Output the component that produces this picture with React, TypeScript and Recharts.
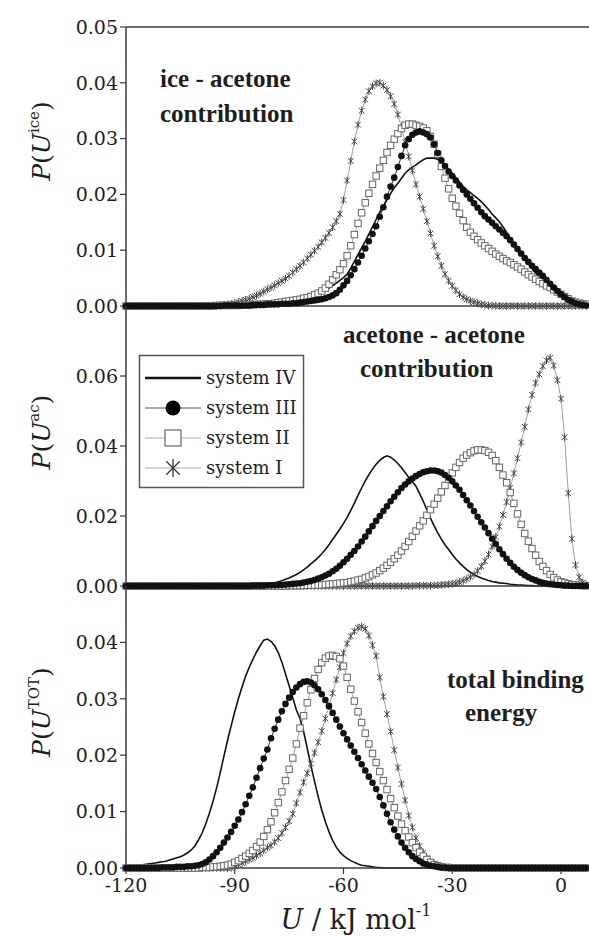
import { LineChart, Line, XAxis, YAxis, ReferenceLine } from "recharts";

// energy bins (kJ/mol), one per integer from -120 to 7
const U_START = -120;
const BIN_COUNT = 128;
const energies = Array.from({ length: BIN_COUNT }, (_, i) => U_START + i);

// probabilities below are in units of 1e-3, one row per 10 bins starting at -120

// ice - acetone contribution
const iceI = [
  0, 0, 0, 0, 0, 0, 0, 0, 0, 0,
  0, 0, 0, 0, 0, 0, 0, 0, 0, 0,
  0, 0, 0, 0, 0.1, 0.1, 0.2, 0.2, 0.3, 0.4,
  0.5, 0.7, 0.9, 1.1, 1.3, 1.6, 1.9, 2.2, 2.6, 3.0,
  3.3, 3.7, 4.1, 4.5, 4.9, 5.4, 6.0, 6.6, 7.2, 7.8,
  8.5, 9.2, 9.9, 10.6, 11.4, 12.2, 13.1, 14.1, 15.2, 16.5,
  19.0, 22.5, 26.0, 29.5, 32.5, 35.0, 37.0, 38.5, 39.4, 39.9,
  40.0, 39.5, 38.7, 37.6, 36.2, 34.3, 32.0, 29.4, 26.8, 24.3,
  21.8, 19.6, 17.4, 15.2, 13.0, 10.8, 8.9, 7.2, 5.7, 4.5,
  3.6, 2.8, 2.1, 1.6, 1.2, 0.9, 0.7, 0.5, 0.3, 0.2,
  0.1, 0.1, 0, 0, 0, 0, 0, 0, 0, 0,
  0, 0, 0, 0, 0, 0, 0, 0, 0, 0,
  0, 0, 0, 0, 0, 0, 0, 0,
];
const iceII = [
  0, 0, 0, 0, 0, 0, 0, 0, 0, 0,
  0, 0, 0, 0, 0, 0, 0, 0, 0, 0,
  0, 0, 0, 0, 0, 0.1, 0.1, 0.1, 0.1, 0.1,
  0.1, 0.1, 0.2, 0.2, 0.2, 0.2, 0.3, 0.3, 0.3, 0.4,
  0.4, 0.5, 0.6, 0.7, 0.8, 0.9, 1.0, 1.1, 1.2, 1.4,
  1.5, 1.7, 2.0, 2.3, 2.7, 3.2, 3.9, 4.7, 5.6, 6.5,
  7.6, 9.0, 10.8, 12.8, 14.8, 16.7, 18.5, 20.2, 21.8, 23.3,
  24.7, 26.1, 27.5, 28.8, 29.9, 30.9, 31.8, 32.4, 32.6, 32.6,
  32.4, 32.2, 31.9, 31.4, 30.4, 29.0, 27.2, 25.0, 22.9, 21.0,
  19.3, 17.9, 16.6, 15.3, 14.1, 13.2, 12.5, 11.9, 11.3, 10.8,
  10.3, 9.8, 9.3, 8.9, 8.5, 8.1, 7.8, 7.4, 7.0, 6.6,
  6.1, 5.6, 5.2, 4.8, 4.4, 4.0, 3.6, 3.3, 2.9, 2.5,
  2.1, 1.7, 1.3, 0.9, 0.7, 0.5, 0.4, 0.3,
];
const iceIII = [
  0, 0, 0, 0, 0, 0, 0, 0, 0, 0,
  0, 0, 0, 0, 0, 0, 0, 0, 0, 0,
  0, 0, 0, 0, 0, 0, 0, 0.1, 0.1, 0.1,
  0.1, 0.1, 0.1, 0.1, 0.1, 0.2, 0.2, 0.2, 0.2, 0.3,
  0.3, 0.3, 0.3, 0.4, 0.4, 0.4, 0.5, 0.5, 0.6, 0.7,
  0.8, 0.9, 1.0, 1.1, 1.2, 1.4, 1.6, 1.9, 2.3, 2.9,
  3.7, 4.5, 5.5, 6.6, 7.8, 9.0, 10.3, 11.6, 12.9, 14.3,
  16.0, 17.7, 19.6, 21.4, 23.0, 24.9, 26.9, 28.8, 29.9, 30.7,
  31.1, 31.3, 31.1, 30.8, 30.2, 29.0, 27.4, 26.1, 25.1, 24.1,
  23.3, 22.5, 21.6, 20.8, 20.0, 19.2, 18.4, 17.6, 16.8, 16.1,
  15.5, 14.9, 14.3, 13.7, 13.1, 12.5, 11.8, 11.0, 10.2, 9.4,
  8.6, 7.9, 7.2, 6.6, 6.0, 5.4, 4.7, 4.0, 3.3, 2.7,
  2.1, 1.6, 1.1, 0.8, 0.5, 0.3, 0.2, 0.1,
];
const iceIV = [
  0, 0, 0, 0, 0, 0, 0, 0, 0, 0,
  0, 0, 0, 0, 0, 0, 0, 0, 0, 0,
  0, 0, 0, 0, 0, 0, 0, 0.1, 0.1, 0.1,
  0.1, 0.1, 0.1, 0.1, 0.2, 0.2, 0.2, 0.3, 0.3, 0.3,
  0.4, 0.4, 0.5, 0.6, 0.7, 0.8, 0.9, 1.0, 1.2, 1.3,
  1.5, 1.7, 1.9, 2.2, 2.5, 2.8, 3.2, 3.6, 4.1, 4.6,
  5.1, 5.7, 6.8, 8.0, 9.2, 10.4, 11.6, 12.9, 14.2, 15.5,
  16.8, 17.9, 19.0, 20.2, 21.2, 22.0, 22.9, 23.8, 24.4, 24.9,
  25.3, 25.8, 26.2, 26.5, 26.5, 26.5, 26.3, 25.8, 25.2, 24.5,
  23.8, 23.0, 22.2, 21.4, 20.8, 20.3, 19.8, 19.3, 18.7, 18.0,
  17.3, 16.5, 15.8, 15.1, 14.2, 13.2, 12.1, 11.0, 10.1, 9.2,
  8.4, 7.6, 6.7, 5.9, 5.1, 4.4, 3.8, 3.2, 2.7, 2.1,
  1.6, 1.2, 0.8, 0.5, 0.3, 0.2, 0.1, 0.1,
];

// acetone - acetone contribution
const acI = [
  0, 0, 0, 0, 0, 0, 0, 0, 0, 0,
  0, 0, 0, 0, 0, 0, 0, 0, 0, 0,
  0, 0, 0, 0, 0, 0, 0, 0, 0, 0,
  0, 0, 0, 0, 0, 0, 0, 0, 0, 0,
  0, 0, 0, 0, 0, 0, 0, 0, 0, 0,
  0, 0, 0, 0, 0, 0, 0, 0, 0, 0,
  0, 0, 0, 0, 0, 0, 0, 0, 0, 0,
  0, 0, 0, 0, 0, 0, 0, 0, 0, 0,
  0.1, 0.1, 0.1, 0.1, 0.1, 0.2, 0.2, 0.3, 0.4, 0.5,
  0.6, 0.8, 1.1, 1.5, 2.0, 2.6, 3.3, 4.3, 5.6, 7.1,
  9.0, 11.3, 14.0, 17.0, 20.3, 24.0, 28.0, 32.2, 36.5, 41.0,
  45.5, 50.5, 54.6, 58.0, 60.5, 62.8, 64.5, 65.2, 63.0, 58.8,
  53.5, 42.5, 26.5, 13.5, 6.0, 2.5, 1.0, 0.4,
];
const acII = [
  0, 0, 0, 0, 0, 0, 0, 0, 0, 0,
  0, 0, 0, 0, 0, 0, 0, 0, 0, 0,
  0, 0, 0, 0, 0, 0, 0, 0, 0, 0,
  0, 0, 0, 0, 0, 0, 0, 0, 0, 0,
  0, 0, 0, 0, 0, 0.1, 0.1, 0.1, 0.1, 0.1,
  0.2, 0.2, 0.2, 0.3, 0.3, 0.4, 0.5, 0.6, 0.7, 0.8,
  0.9, 1.0, 1.2, 1.4, 1.7, 1.9, 2.3, 2.7, 3.2, 3.7,
  4.4, 5.1, 5.9, 6.8, 7.8, 8.8, 10.0, 11.3, 12.7, 14.2,
  15.7, 17.2, 18.6, 20.2, 21.8, 23.4, 25.1, 26.9, 28.7, 30.5,
  32.3, 33.9, 35.3, 36.5, 37.4, 38.1, 38.6, 38.9, 38.9, 38.7,
  38.2, 37.3, 35.8, 33.9, 31.7, 29.5, 26.7, 23.6, 20.6, 17.6,
  15.0, 12.8, 10.7, 8.8, 7.0, 5.6, 4.4, 3.3, 2.4, 1.7,
  1.2, 0.9, 0.6, 0.4, 0.3, 0.2, 0.1, 0.1,
];
const acIII = [
  0, 0, 0, 0, 0, 0, 0, 0, 0, 0,
  0, 0, 0, 0, 0, 0, 0, 0, 0, 0,
  0, 0, 0, 0, 0, 0, 0, 0, 0, 0,
  0, 0, 0, 0, 0, 0.1, 0.1, 0.1, 0.1, 0.2,
  0.2, 0.2, 0.3, 0.3, 0.4, 0.5, 0.6, 0.7, 0.8, 1.0,
  1.2, 1.4, 1.7, 2.1, 2.5, 3.0, 3.5, 4.2, 4.9, 5.8,
  6.8, 7.8, 8.9, 10.0, 11.3, 12.7, 14.1, 15.6, 17.1, 18.6,
  20.0, 21.4, 22.8, 24.2, 25.5, 26.8, 28.0, 29.0, 29.9, 30.7,
  31.4, 32.0, 32.5, 32.8, 33.0, 33.0, 32.8, 32.4, 31.7, 30.9,
  29.9, 28.7, 27.5, 26.0, 24.5, 23.0, 21.4, 19.8, 18.2, 16.7,
  15.1, 13.5, 12.0, 10.5, 9.1, 7.8, 6.6, 5.5, 4.6, 3.8,
  3.1, 2.5, 2.0, 1.6, 1.2, 0.9, 0.7, 0.5, 0.4, 0.3,
  0.2, 0.1, 0.1, 0, 0, 0, 0, 0,
];
const acIV = [
  0, 0, 0, 0, 0, 0, 0, 0, 0, 0,
  0, 0, 0, 0, 0, 0, 0, 0, 0, 0,
  0, 0, 0, 0, 0, 0, 0, 0, 0, 0,
  0, 0, 0.1, 0.1, 0.1, 0.2, 0.2, 0.3, 0.4, 0.5,
  0.7, 0.9, 1.2, 1.5, 1.9, 2.3, 2.8, 3.3, 3.9, 4.6,
  5.4, 6.3, 7.2, 8.1, 9.2, 10.4, 11.8, 13.3, 14.8, 16.3,
  17.9, 19.6, 21.6, 23.7, 25.9, 28.0, 30.0, 31.8, 33.4, 34.8,
  35.9, 36.7, 37.2, 36.8, 36.0, 35.0, 33.8, 32.4, 31.0, 29.8,
  28.5, 26.4, 24.2, 21.8, 19.4, 17.2, 15.2, 13.4, 11.8, 10.4,
  9.0, 7.7, 6.6, 5.6, 4.7, 3.9, 3.3, 2.7, 2.3, 1.9,
  1.6, 1.3, 1.1, 0.9, 0.8, 0.7, 0.5, 0.4, 0.3, 0.3,
  0.2, 0.1, 0.1, 0, 0, 0, 0, 0, 0, 0,
  0, 0, 0, 0, 0, 0, 0, 0,
];

// total binding energy
const totI = [
  0, 0, 0, 0, 0, 0, 0, 0, 0, 0,
  0, 0, 0, 0, 0, 0, 0, 0, 0, 0,
  0, 0, 0, 0, 0, 0, 0, 0, 0, 0,
  0.4, 0.6, 0.9, 1.2, 1.5, 1.8, 2.2, 2.6, 3.1, 3.6,
  4.0, 4.6, 5.3, 6.2, 7.2, 8.3, 9.6, 11.5, 13.4, 15.2,
  16.8, 18.5, 20.4, 22.3, 24.3, 26.5, 28.7, 31.0, 33.4, 35.6,
  38.1, 39.8, 41.1, 42.0, 42.6, 42.8, 42.4, 41.2, 39.5, 37.6,
  33.8, 30.4, 27.3, 24.2, 20.9, 17.8, 14.9, 12.0, 9.3, 7.2,
  5.3, 3.9, 2.7, 1.8, 1.1, 0.7, 0.4, 0.2, 0.1, 0.1,
  0, 0, 0, 0, 0, 0, 0, 0, 0, 0,
  0, 0, 0, 0, 0, 0, 0, 0, 0, 0,
  0, 0, 0, 0, 0, 0, 0, 0, 0, 0,
  0, 0, 0, 0, 0, 0, 0, 0,
];
const totII = [
  0, 0, 0, 0, 0, 0, 0, 0, 0, 0,
  0, 0, 0, 0, 0, 0, 0, 0, 0, 0,
  0, 0.1, 0.1, 0.1, 0.2, 0.2, 0.3, 0.4, 0.5, 0.7,
  1.0, 1.3, 1.7, 2.1, 2.6, 3.1, 3.8, 4.6, 5.6, 6.8,
  8.2, 9.8, 11.6, 13.5, 15.5, 17.5, 19.5, 22.0, 24.8, 27.0,
  29.3, 31.6, 33.6, 35.2, 36.4, 37.2, 37.6, 37.7, 37.5, 37.1,
  35.8, 33.8, 31.7, 29.6, 27.7, 25.8, 23.9, 22.0, 20.3, 18.7,
  17.1, 15.5, 13.9, 12.3, 10.7, 9.2, 7.8, 6.6, 5.5, 4.5,
  3.6, 2.8, 2.1, 1.5, 1.0, 0.6, 0.4, 0.2, 0.1, 0.1,
  0, 0, 0, 0, 0, 0, 0, 0, 0, 0,
  0, 0, 0, 0, 0, 0, 0, 0, 0, 0,
  0, 0, 0, 0, 0, 0, 0, 0, 0, 0,
  0, 0, 0, 0, 0, 0, 0, 0,
];
const totIII = [
  0, 0, 0, 0, 0, 0, 0, 0, 0, 0,
  0.1, 0.1, 0.1, 0.1, 0.2, 0.2, 0.2, 0.3, 0.3, 0.4,
  0.5, 0.7, 1.0, 1.5, 2.1, 2.8, 3.6, 4.5, 5.4, 6.4,
  7.5, 8.6, 9.9, 11.3, 12.8, 14.3, 16.0, 17.7, 19.4, 21.0,
  23.0, 24.7, 26.3, 27.8, 29.1, 30.2, 31.2, 32.0, 32.6, 33.0,
  33.1, 32.9, 32.4, 31.7, 30.8, 29.8, 28.7, 27.5, 26.3, 25.1,
  23.9, 22.8, 21.7, 20.6, 19.5, 18.4, 17.3, 16.2, 15.1, 14.0,
  12.6, 11.1, 9.6, 8.1, 6.8, 5.6, 4.5, 3.6, 2.8, 2.1,
  1.6, 1.2, 0.8, 0.6, 0.4, 0.3, 0.2, 0.1, 0.1, 0,
  0, 0, 0, 0, 0, 0, 0, 0, 0, 0,
  0, 0, 0, 0, 0, 0, 0, 0, 0, 0,
  0, 0, 0, 0, 0, 0, 0, 0, 0, 0,
  0, 0, 0, 0, 0, 0, 0, 0,
];
const totIV = [
  0.1, 0.2, 0.3, 0.4, 0.5, 0.6, 0.7, 0.8, 0.9, 1.0,
  1.1, 1.2, 1.4, 1.6, 1.8, 2.0, 2.3, 2.7, 3.2, 3.9,
  5.0, 6.2, 7.8, 9.7, 11.8, 14.2, 16.9, 19.8, 22.6, 25.2,
  27.7, 30.0, 32.1, 34.0, 35.6, 37.0, 38.3, 39.4, 40.4, 40.6,
  40.2, 39.4, 38.2, 36.5, 34.4, 32.3, 30.2, 28.0, 26.5, 24.2,
  21.2, 18.2, 15.4, 12.7, 10.3, 8.2, 6.4, 4.9, 3.7, 2.8,
  2.2, 1.7, 1.3, 1.0, 0.7, 0.5, 0.4, 0.3, 0.2, 0.1,
  0.1, 0, 0, 0, 0, 0, 0, 0, 0, 0,
  0, 0, 0, 0, 0, 0, 0, 0, 0, 0,
  0, 0, 0, 0, 0, 0, 0, 0, 0, 0,
  0, 0, 0, 0, 0, 0, 0, 0, 0, 0,
  0, 0, 0, 0, 0, 0, 0, 0, 0, 0,
  0, 0, 0, 0, 0, 0, 0, 0,
];

const xTicks = [-120, -90, -60, -30, 0];
const iceTicks = [0, 0.01, 0.02, 0.03, 0.04, 0.05];
const acTicks = [0, 0.02, 0.04, 0.06];
const totTicks = [0, 0.01, 0.02, 0.03, 0.04];
const legendNames = ["system IV", "system III", "system II", "system I"];

const FONT = "DejaVu Serif";
const BOLD_FONT = "Liberation Serif";
const AXIS = "#3c3c3c";
const INK = "#1e1e1e";

function buildRows(s1: number[], s2: number[], s3: number[], s4: number[]) {
  return energies.map((u, i) => ({
    u,
    s1: s1[i] / 1000,
    s2: s2[i] / 1000,
    s3: s3[i] / 1000,
    s4: s4[i] / 1000,
  }));
}

const iceRows = buildRows(iceI, iceII, iceIII, iceIV);
const acRows = buildRows(acI, acII, acIII, acIV);
const totRows = buildRows(totI, totII, totIII, totIV);

const renderCircle = (p: any) => (
  <circle key={`c${p.index}`} cx={p.cx} cy={p.cy} r={3.3} fill="#111" />
);

const renderSquare = (p: any) => (
  <rect
    key={`q${p.index}`}
    x={p.cx - 3.2}
    y={p.cy - 3.2}
    width={6.4}
    height={6.4}
    fill="#fff"
    stroke="#666"
    strokeWidth={1}
  />
);

function Star({ cx, cy, r, color, width }: { cx: number; cy: number; r: number; color: string; width: number }) {
  const d = r * 0.75;
  return (
    <g stroke={color} strokeWidth={width}>
      <line x1={cx} y1={cy - r} x2={cx} y2={cy + r} />
      <line x1={cx - d} y1={cy - d} x2={cx + d} y2={cy + d} />
      <line x1={cx - d} y1={cy + d} x2={cx + d} y2={cy - d} />
    </g>
  );
}

const renderStar = (p: any) => (
  <g key={`s${p.index}`}>
    <Star cx={p.cx} cy={p.cy} r={3.8} color="#444" width={1} />
  </g>
);

const tickStyle = { fontFamily: FONT, fontSize: 19, fill: INK };

function Panel({
  rows,
  yMax,
  yTicks,
  top,
  height,
  marginTop,
  axisHeight,
  bottomAxis,
  frameTop,
}: {
  rows: ReturnType<typeof buildRows>;
  yMax: number;
  yTicks: number[];
  top: number;
  height: number;
  marginTop: number;
  axisHeight: number;
  bottomAxis: boolean;
  frameTop: boolean;
}) {
  return (
    <div style={{ position: "absolute", left: 0, top }}>
      <LineChart width={590} height={height} data={rows} margin={{ top: marginTop, right: 0, bottom: 0, left: 0 }}>
        <XAxis
          dataKey="u"
          type="number"
          domain={[-120, 8]}
          ticks={bottomAxis ? xTicks : []}
          interval={0}
          tick={bottomAxis ? tickStyle : false}
          tickLine={bottomAxis ? { stroke: AXIS, strokeWidth: 1.2 } : false}
          tickSize={6}
          tickMargin={5}
          height={axisHeight}
          axisLine={{ stroke: AXIS, strokeWidth: 1.5 }}
        />
        <YAxis
          type="number"
          domain={[0, yMax]}
          ticks={yTicks}
          interval={0}
          width={126}
          tickFormatter={(v: number) => v.toFixed(2)}
          tick={tickStyle}
          tickLine={{ stroke: AXIS, strokeWidth: 1.2 }}
          tickSize={6}
          tickMargin={2}
          axisLine={{ stroke: AXIS, strokeWidth: 1.5 }}
        />
        {frameTop && <ReferenceLine y={yMax} stroke={AXIS} strokeWidth={1.5} />}
        <Line dataKey="s1" stroke="#888" strokeWidth={0.8} dot={renderStar} isAnimationActive={false} />
        <Line dataKey="s2" stroke="#888" strokeWidth={0.8} dot={renderSquare} isAnimationActive={false} />
        <Line dataKey="s3" stroke="#333" strokeWidth={1} dot={renderCircle} isAnimationActive={false} />
        <Line dataKey="s4" stroke="#111" strokeWidth={1.6} dot={false} isAnimationActive={false} />
      </LineChart>
    </div>
  );
}

function YTitle({ cy, sup }: { cy: number; sup: string }) {
  return (
    <text transform={`translate(50,${cy}) rotate(-90)`} textAnchor="middle" fontFamily={FONT} fontSize={25} fill={INK}>
      <tspan fontStyle="italic">P</tspan>(<tspan fontStyle="italic">U</tspan>
      <tspan fontSize={15} dy={-11}>{sup}</tspan>
      <tspan dy={11}>)</tspan>
    </text>
  );
}

function LegendBox() {
  const rowsY = [378, 408, 438, 468];
  return (
    <g>
      <rect x={139.5} y={355.5} width={164} height={132} fill="#fff" stroke="#555" strokeWidth={1.5} />
      {legendNames.map((name, i) => {
        const y = rowsY[i];
        return (
          <g key={name}>
            {i === 0 && <line x1={145} x2={201} y1={y} y2={y} stroke="#111" strokeWidth={2.6} />}
            {i === 1 && (
              <>
                <line x1={145} x2={201} y1={y} y2={y} stroke="#555" strokeWidth={1} />
                <circle cx={173} cy={y} r={7.5} fill="#000" />
              </>
            )}
            {i === 2 && (
              <>
                <line x1={145} x2={201} y1={y} y2={y} stroke="#aaa" strokeWidth={1} />
                <rect x={165} y={y - 8} width={16} height={16} fill="#fff" stroke="#666" strokeWidth={1.2} />
              </>
            )}
            {i === 3 && (
              <>
                <line x1={145} x2={201} y1={y} y2={y} stroke="#aaa" strokeWidth={1} />
                <Star cx={173} cy={y} r={9} color="#333" width={1.3} />
              </>
            )}
            <text x={206} y={y + 6} fontFamily={FONT} fontSize={18} fill={INK}>
              {name}
            </text>
          </g>
        );
      })}
    </g>
  );
}

export default function App() {
  const note = { fontFamily: BOLD_FONT, fontWeight: 700, fontSize: 25, fill: INK };
  return (
    <div style={{ position: "absolute", left: 0, top: 0, width: 589, height: 936, overflow: "hidden", background: "#fff" }}>
      <Panel rows={iceRows} yMax={0.05} yTicks={iceTicks} top={0} height={320} marginTop={27} axisHeight={14} bottomAxis={false} frameTop />
      <Panel rows={acRows} yMax={0.08} yTicks={acTicks} top={296} height={304} marginTop={10} axisHeight={14} bottomAxis={false} frameTop={false} />
      <Panel rows={totRows} yMax={0.05} yTicks={totTicks} top={576} height={360} marginTop={10} axisHeight={68} bottomAxis frameTop={false} />

      <svg width={589} height={936} style={{ position: "absolute", left: 0, top: 0, pointerEvents: "none" }}>
        <YTitle cy={141} sup="ice" />
        <YTitle cy={432} sup="ac" />
        <YTitle cy={712} sup="TOT" />

        <text x={356} y={929} textAnchor="middle" fontFamily={FONT} fontSize={27} fill={INK}>
          <tspan fontStyle="italic">U</tspan> / kJ mol
          <tspan fontSize={16} dy={-13}>-1</tspan>
        </text>

        <text x={160} y={87} {...note}>ice - acetone</text>
        <text x={160} y={122} {...note}>contribution</text>
        <text x={343} y={343} {...note}>acetone - acetone</text>
        <text x={360} y={377} {...note}>contribution</text>
        <text x={447} y={688} {...note}>total binding</text>
        <text x={465} y={721} {...note}>energy</text>

        <LegendBox />
      </svg>
    </div>
  );
}
